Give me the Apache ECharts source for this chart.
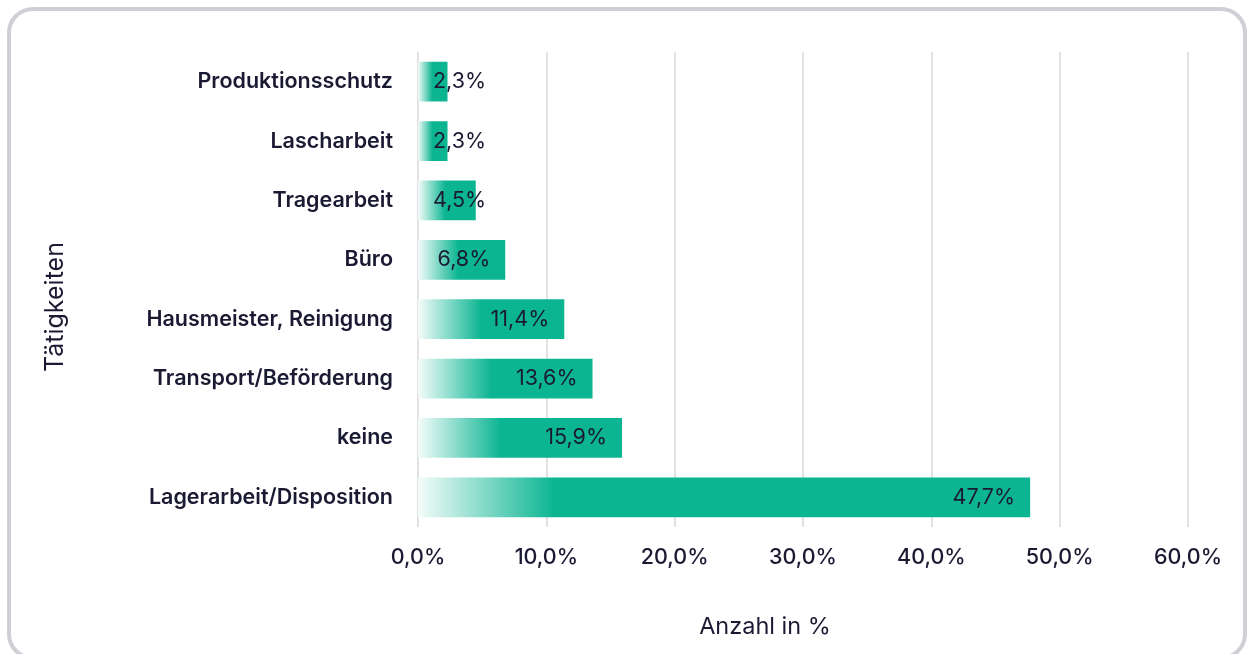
<!DOCTYPE html>
<html>
<head>
<meta charset="utf-8">
<script src="https://cdn.jsdelivr.net/npm/echarts@6/dist/echarts.min.js"></script>
<style>
  html, body { margin: 0; padding: 0; background: #fff; }
  #chart { position: absolute; left: 0; top: 0; width: 1248px; height: 654px; }
  .frame {
    position: absolute; left: 7px; top: 7px; width: 1232px; height: 645px;
    border: 4px solid #cfcfd6; border-radius: 26px; pointer-events: none;
  }
</style>
</head>
<body>
<div id="chart"></div>
<div class="frame"></div>
<script>
// Tätigkeiten, von oben nach unten
const categories = ['Produktionsschutz', 'Lascharbeit', 'Tragearbeit', 'Büro',
    'Hausmeister, Reinigung', 'Transport/Beförderung', 'keine', 'Lagerarbeit/Disposition'];
const values = [2.3, 2.3, 4.5, 6.8, 11.4, 13.6, 15.9, 47.7];
const ticks = [0, 10, 20, 30, 40, 50, 60];

const FONT = 'Inter, "Noto Sans", sans-serif';
const TEAL = '#0bb592';
const INK = '#1b1a33';

const chart = echarts.init(document.getElementById('chart'));

function fmt(v, d) {
    return v.toFixed(d).replace('.', ',') + '%';
}

function barColor(v) {
    // gradient gets shorter (relative) on long bars
    let stop = Math.max(0.22, 0.5 - 0.0058 * v);
    return new echarts.graphic.LinearGradient(0, 0, 1, 0, [
        { offset: 0, color: '#f4fcfa' },
        { offset: stop, color: TEAL },
        { offset: 1, color: TEAL }
    ]);
}

const options = {
    animation: false,
    grid: {
        left: 418,
        right: 60,
        top: 52,
        bottom: 127
    },
    xAxis: {
        type: 'value',
        min: ticks[0],
        max: ticks[ticks.length - 1],
        interval: 10,
        name: 'Anzahl in %',
        nameLocation: 'middle',
        nameGap: 88,
        nameTextStyle: {
            fontFamily: FONT,
            fontSize: 23.5,
            color: INK,
            padding: [0, 76, 0, 0]
        },
        axisLine: { show: false },
        axisTick: { show: false },
        splitLine: { lineStyle: { color: '#e2e2e4', width: 2 } },
        axisLabel: {
            margin: 20,
            fontFamily: FONT,
            fontSize: 21.5,
            fontWeight: 500,
            color: INK,
            formatter: v => fmt(v, 1)
        }
    },
    yAxis: {
        type: 'category',
        inverse: true,
        data: categories,
        name: 'Tätigkeiten',
        nameLocation: 'middle',
        nameGap: 350,
        nameTextStyle: {
            fontFamily: FONT,
            fontSize: 25,
            color: INK,
            padding: [0, 35, 0, 0]
        },
        axisLine: { show: false },
        axisTick: { show: false },
        axisLabel: {
            margin: 25,
            fontFamily: FONT,
            fontSize: 21.5,
            fontWeight: 600,
            color: INK
        }
    },
    series: [{
        type: 'bar',
        barWidth: '67%',
        data: values.map(v => ({
            value: v,
            itemStyle: { color: barColor(v) },
            label: v < 6
                ? { position: 'insideLeft', distance: 15 }
                : { position: 'insideRight', distance: 15 }
        })),
        label: {
            show: true,
            fontFamily: FONT,
            fontSize: 21.5,
            color: INK,
            formatter: p => fmt(p.value, 1)
        }
    }]
};

chart.setOption(options);
</script>
</body>
</html>
